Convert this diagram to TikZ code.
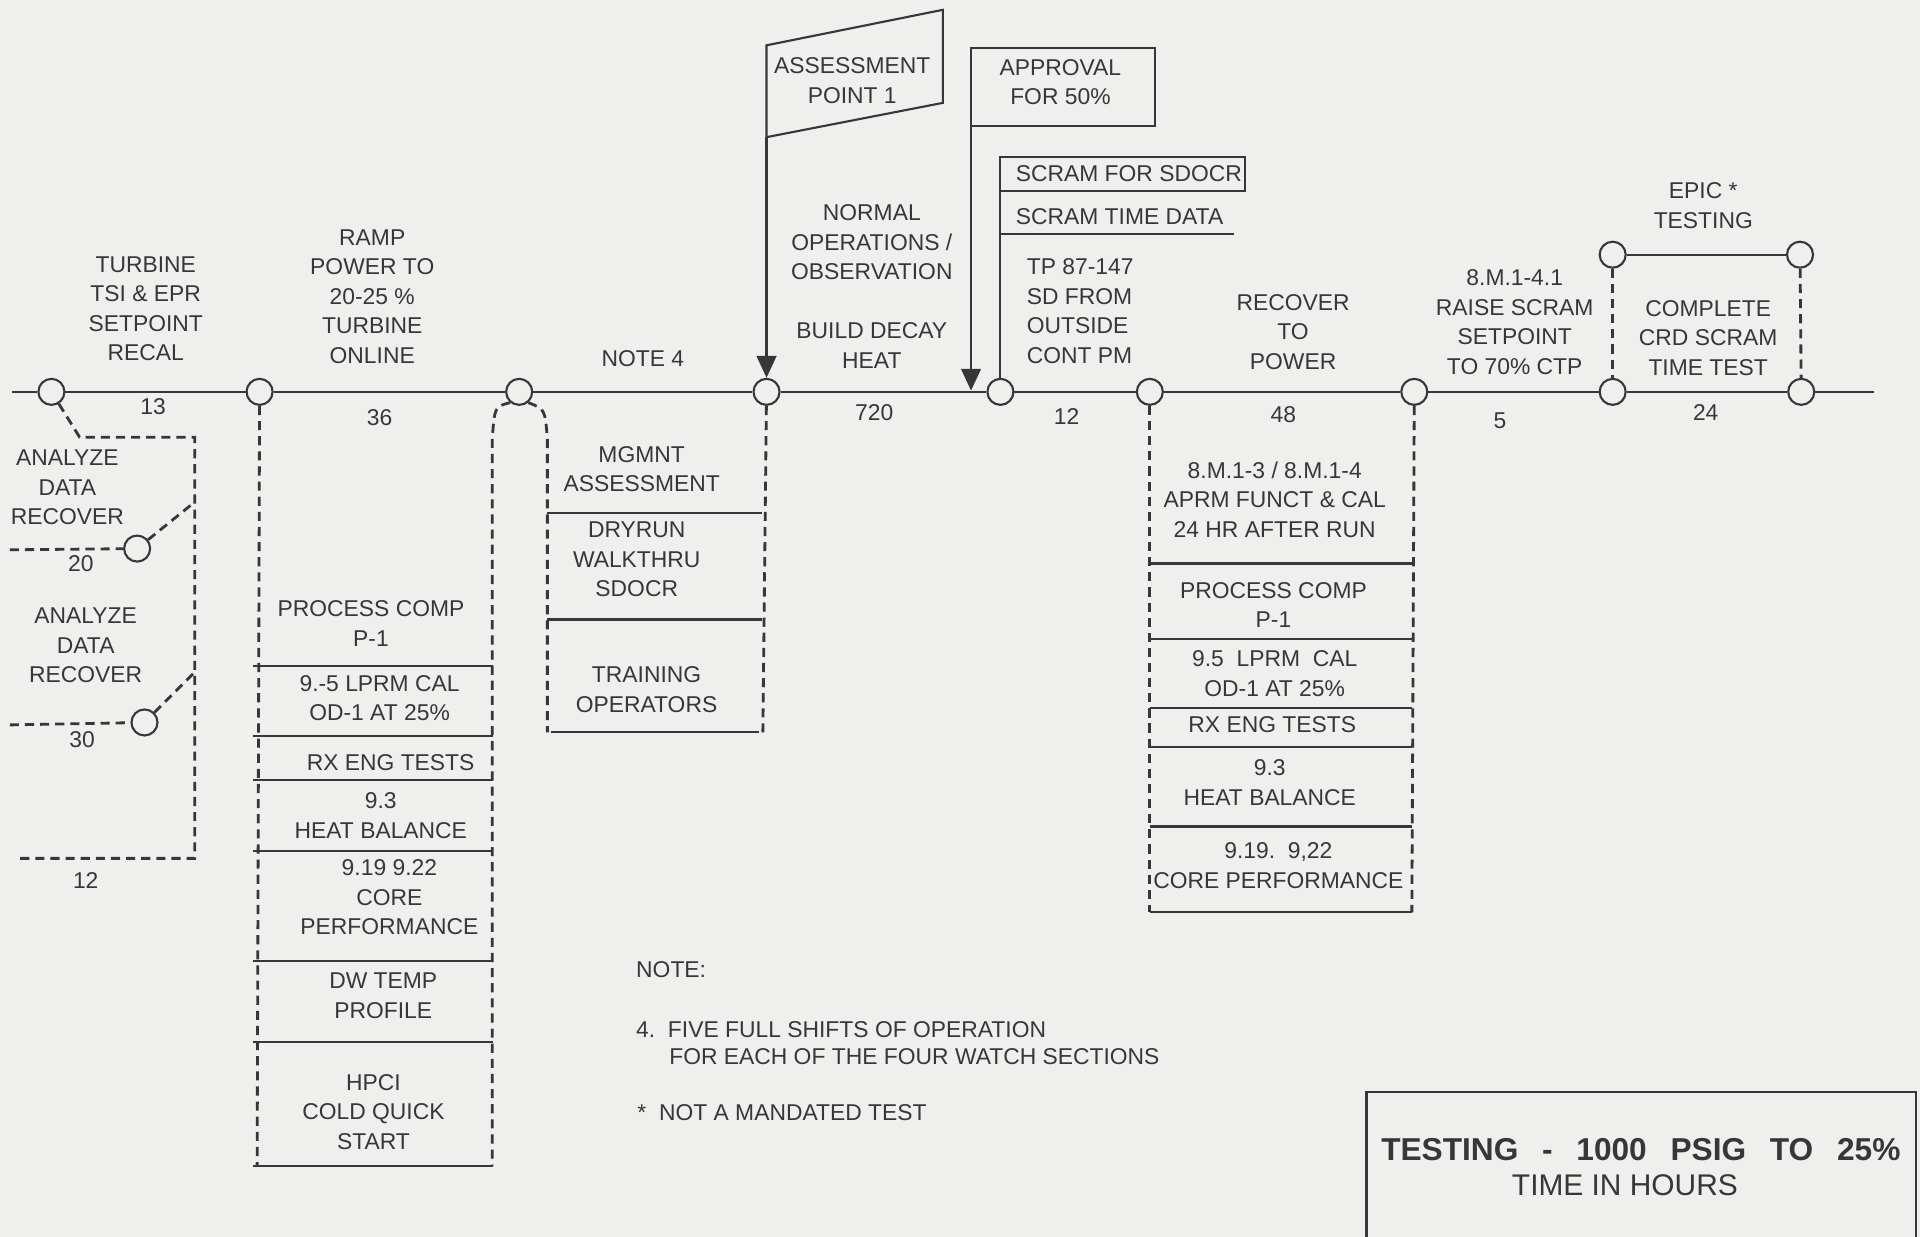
\documentclass[tikz,border=0pt]{standalone}
\usepackage{fontspec}
\setmainfont{Liberation Sans}
\usetikzlibrary{arrows.meta}

\definecolor{ink}{RGB}{55,55,55}
\definecolor{paper}{RGB}{239,239,238}

\begin{document}
\begin{tikzpicture}[x=0.012245cm, y=-0.012245cm,
            timeline/.style={color=ink, line width=0.6pt},
            event/.style={circle, draw=ink, line width=0.6pt, fill=paper, minimum size=7.4pt, inner sep=0pt},
            taskline/.style={color=ink, line width=0.8pt, dash pattern=on 2.6pt off 1.7pt},
            sepline/.style={color=ink, line width=0.7pt},
            pointer/.style={color=ink, line width=0.6pt, -{Triangle[length=6.2pt, width=5.6pt]}},
            tasktext/.style={align=center, text=ink, inner sep=0pt, font=\fontsize{6.5}{8.4}\selectfont},
            notetext/.style={tasktext, anchor=west, align=left},
            titlebold/.style={text=ink, inner sep=0pt, font=\fontsize{9}{10}\selectfont\bfseries},
            titleplain/.style={text=ink, inner sep=0pt, font=\fontsize{8.5}{10}\selectfont}
        ]
            % paper
            \fill[paper] (0,0) rectangle (1568,1010);
            \useasboundingbox (0,0) rectangle (1568,1010);

            % events on the line
            \foreach \x [count=\i] in {42, 212, 424, 626, 817, 939, 1155, 1317, 1471}{
                \node[event] (e\i) at (\x, 320) {};
            }
            \coordinate (tlstart) at (10, 320);
            \coordinate (tlend) at (1530, 320);

            %line
            \draw[timeline] (tlstart) -- (e1) -- (e2) -- (e3) -- (e4) -- (e5) -- (e6) -- (e7) -- (e8) -- (e9) -- (tlend);

            % hours (below the line)
            \node[tasktext] (h1) at (125, 332) {13};
            \node[tasktext] (h2) at (310, 341) {36};
            \node[tasktext] (h3) at (714, 337) {720};
            \node[tasktext] (h4) at (871, 340) {12};
            \node[tasktext] (h5) at (1048, 339) {48};
            \node[tasktext] (h6) at (1225, 344) {5};
            \node[tasktext] (h7) at (1393, 337) {24};

            % activities (above the line)
            \node[tasktext] (turb) at (119, 252) {TURBINE\\TSI \& EPR\\SETPOINT\\RECAL};
            \node[tasktext] (ramp) at (304, 242) {RAMP\\POWER TO\\20-25 \%\\TURBINE\\ONLINE};
            \node[tasktext] (note4) at (525, 293) {NOTE 4};
            \node[tasktext] (normal) at (712, 198) {NORMAL\\OPERATIONS /\\OBSERVATION};
            \node[tasktext] (decay) at (712, 282) {BUILD DECAY\\HEAT};
            \node[tasktext, anchor=west, align=left] (tp) at (838, 254) {TP 87-147\\SD FROM\\OUTSIDE\\CONT PM};
            \node[tasktext] (recover) at (1056, 271) {RECOVER\\TO\\POWER};
            \node[tasktext] (raise) at (1237, 263) {8.M.1-4.1\\RAISE SCRAM\\SETPOINT\\TO 70\% CTP};
            \node[tasktext] (crd) at (1395, 276) {COMPLETE\\CRD SCRAM\\TIME TEST};

            % assessment point
            \coordinate (apbot) at (626, 112);
            \draw[timeline] (626, 37) -- (770, 8) -- (770, 84) -- (apbot) -- cycle;
            \node[tasktext] (ap) at (696, 66) {ASSESSMENT\\POINT 1};
            \draw[pointer] (apbot) -- (e4);

            % approval
            \coordinate (apvtop) at (793, 39);
            \coordinate (apvtip) at (793, 319);
            \draw[timeline] (apvtop) rectangle (943, 103);
            \node[tasktext] (apv) at (866, 67) {APPROVAL\\FOR 50\%};
            \draw[pointer] (apvtop) -- (apvtip);

            % scram
            \coordinate (scramtop) at (817, 128);
            \draw[timeline] (scramtop) rectangle (1017, 156);
            \draw[timeline] (e5) -- (scramtop);
            \node[tasktext, anchor=west] (sdocr) at (829, 142) {SCRAM FOR SDOCR};
            \node[tasktext, anchor=west] (stime) at (829, 177) {SCRAM TIME DATA};
            \draw[timeline] (817, 191) -- (1008, 191);

            % epic testing
            \node[event] (t1) at (1317, 208) {};
            \node[event] (t2) at (1470, 208) {};
            \draw[timeline] (t1) -- (t2);
            \draw[taskline] (t1) -- (e8);
            \draw[taskline] (t2) -- (e9);
            \node[tasktext] (epic) at (1391, 168) {EPIC *\\TESTING};

            % analyze data branch
            \coordinate (brend) at (15, 701);
            \draw[taskline] (e1) -- (65, 357) -- (159, 357) -- (159, 701) -- (brend);
            \node[event] (r1) at (112, 448) {};
            \node[event] (r2) at (118, 590) {};
            \coordinate (r1in) at (8, 449);
            \coordinate (r2in) at (8, 592);
            \coordinate (r1out) at (159, 410);
            \coordinate (r2out) at (159, 549);
            \draw[taskline] (r1in) -- (r1);
            \draw[taskline] (r1) -- (r1out);
            \draw[taskline] (r2in) -- (r2);
            \draw[taskline] (r2) -- (r2out);
            \node[tasktext] (an1) at (55, 398) {ANALYZE\\DATA\\RECOVER};
            \node[tasktext] (an2) at (70, 527) {ANALYZE\\DATA\\RECOVER};
            \node[tasktext] (h20) at (66, 460) {20};
            \node[tasktext] (h30) at (67, 604) {30};
            \node[tasktext] (h12) at (70, 719) {12};

            % tests after turbine online
            \draw[taskline] (e2) -- (210, 952);
            \draw[taskline] (e3.230) .. controls (404, 332) .. (402, 358) -- (402, 952);
            \foreach \y in {544, 601, 637, 695, 785, 851, 952}{
                \draw[sepline] (207, \y) -- (403, \y);
            }
            \node[tasktext] (pc1) at (303, 509) {PROCESS COMP\\P-1};
            \node[tasktext] (lprm1) at (310, 570) {9.-5 LPRM CAL\\OD-1 AT 25\%};
            \node[tasktext] (rx1) at (319, 623) {RX ENG TESTS};
            \node[tasktext] (hb1) at (311, 666) {9.3\\HEAT BALANCE};
            \node[tasktext] (cp1) at (318, 733) {9.19 9.22\\CORE\\PERFORMANCE};
            \node[tasktext] (dw) at (313, 813) {DW TEMP\\PROFILE};
            \node[tasktext] (hpci) at (305, 908) {HPCI\\COLD QUICK\\START};

            % management column
            \draw[taskline] (e3.310) .. controls (445, 334) .. (447, 358) -- (447, 598);
            \draw[taskline] (e4) -- (623, 598);
            \draw[sepline] (447, 419) -- (622, 419);
            \draw[sepline] (447, 506) -- (622, 506);
            \draw[sepline] (450, 598) -- (620, 598);
            \node[tasktext] (mgmnt) at (524, 383) {MGMNT\\ASSESSMENT};
            \node[tasktext] (dry) at (520, 457) {DRYRUN\\WALKTHRU\\SDOCR};
            \node[tasktext] (train) at (528, 563) {TRAINING\\OPERATORS};

            % tests after recovery
            \draw[taskline] (e6) -- (939, 745);
            \draw[taskline] (e7) -- (1153, 745);
            \foreach \y in {460, 522, 578, 610, 675, 745}{
                \draw[sepline] (939, \y) -- (1153, \y);
            }
            \node[tasktext] (aprm) at (1041, 408) {8.M.1-3 / 8.M.1-4\\APRM FUNCT \& CAL\\24 HR AFTER RUN};
            \node[tasktext] (pc2) at (1040, 494) {PROCESS COMP\\P-1};
            \node[tasktext] (lprm2) at (1041, 550) {9.5\ \ LPRM\ \ CAL\\OD-1 AT 25\%};
            \node[tasktext] (rx2) at (1039, 592) {RX ENG TESTS};
            \node[tasktext] (hb2) at (1037, 639) {9.3\\HEAT BALANCE};
            \node[tasktext] (cp2) at (1044, 707) {9.19.\ \ 9,22\\CORE PERFORMANCE};

            % notes
            \node[notetext] (nt0) at (519, 792) {NOTE:};
            \node[notetext] (nt1) at (519, 841) {4.\ \ FIVE FULL SHIFTS OF OPERATION};
            \node[notetext] (nt2) at (546, 863) {FOR EACH OF THE FOUR WATCH SECTIONS};
            \node[notetext] (nt3) at (520, 909) {*\ \ NOT A MANDATED TEST};

            % title block
            \draw[timeline] (1116, 1020) -- (1116, 892) -- (1565, 892) -- (1565, 1020);
            \node[titlebold] (ttl) at (1340, 939) {TESTING\hspace{0.75em}-\hspace{0.75em}1000\hspace{0.75em}PSIG\hspace{0.75em}TO\hspace{0.75em}25\%};
            \node[titleplain] (tsub) at (1327, 968) {TIME IN HOURS};

        \end{tikzpicture}
\end{document}
